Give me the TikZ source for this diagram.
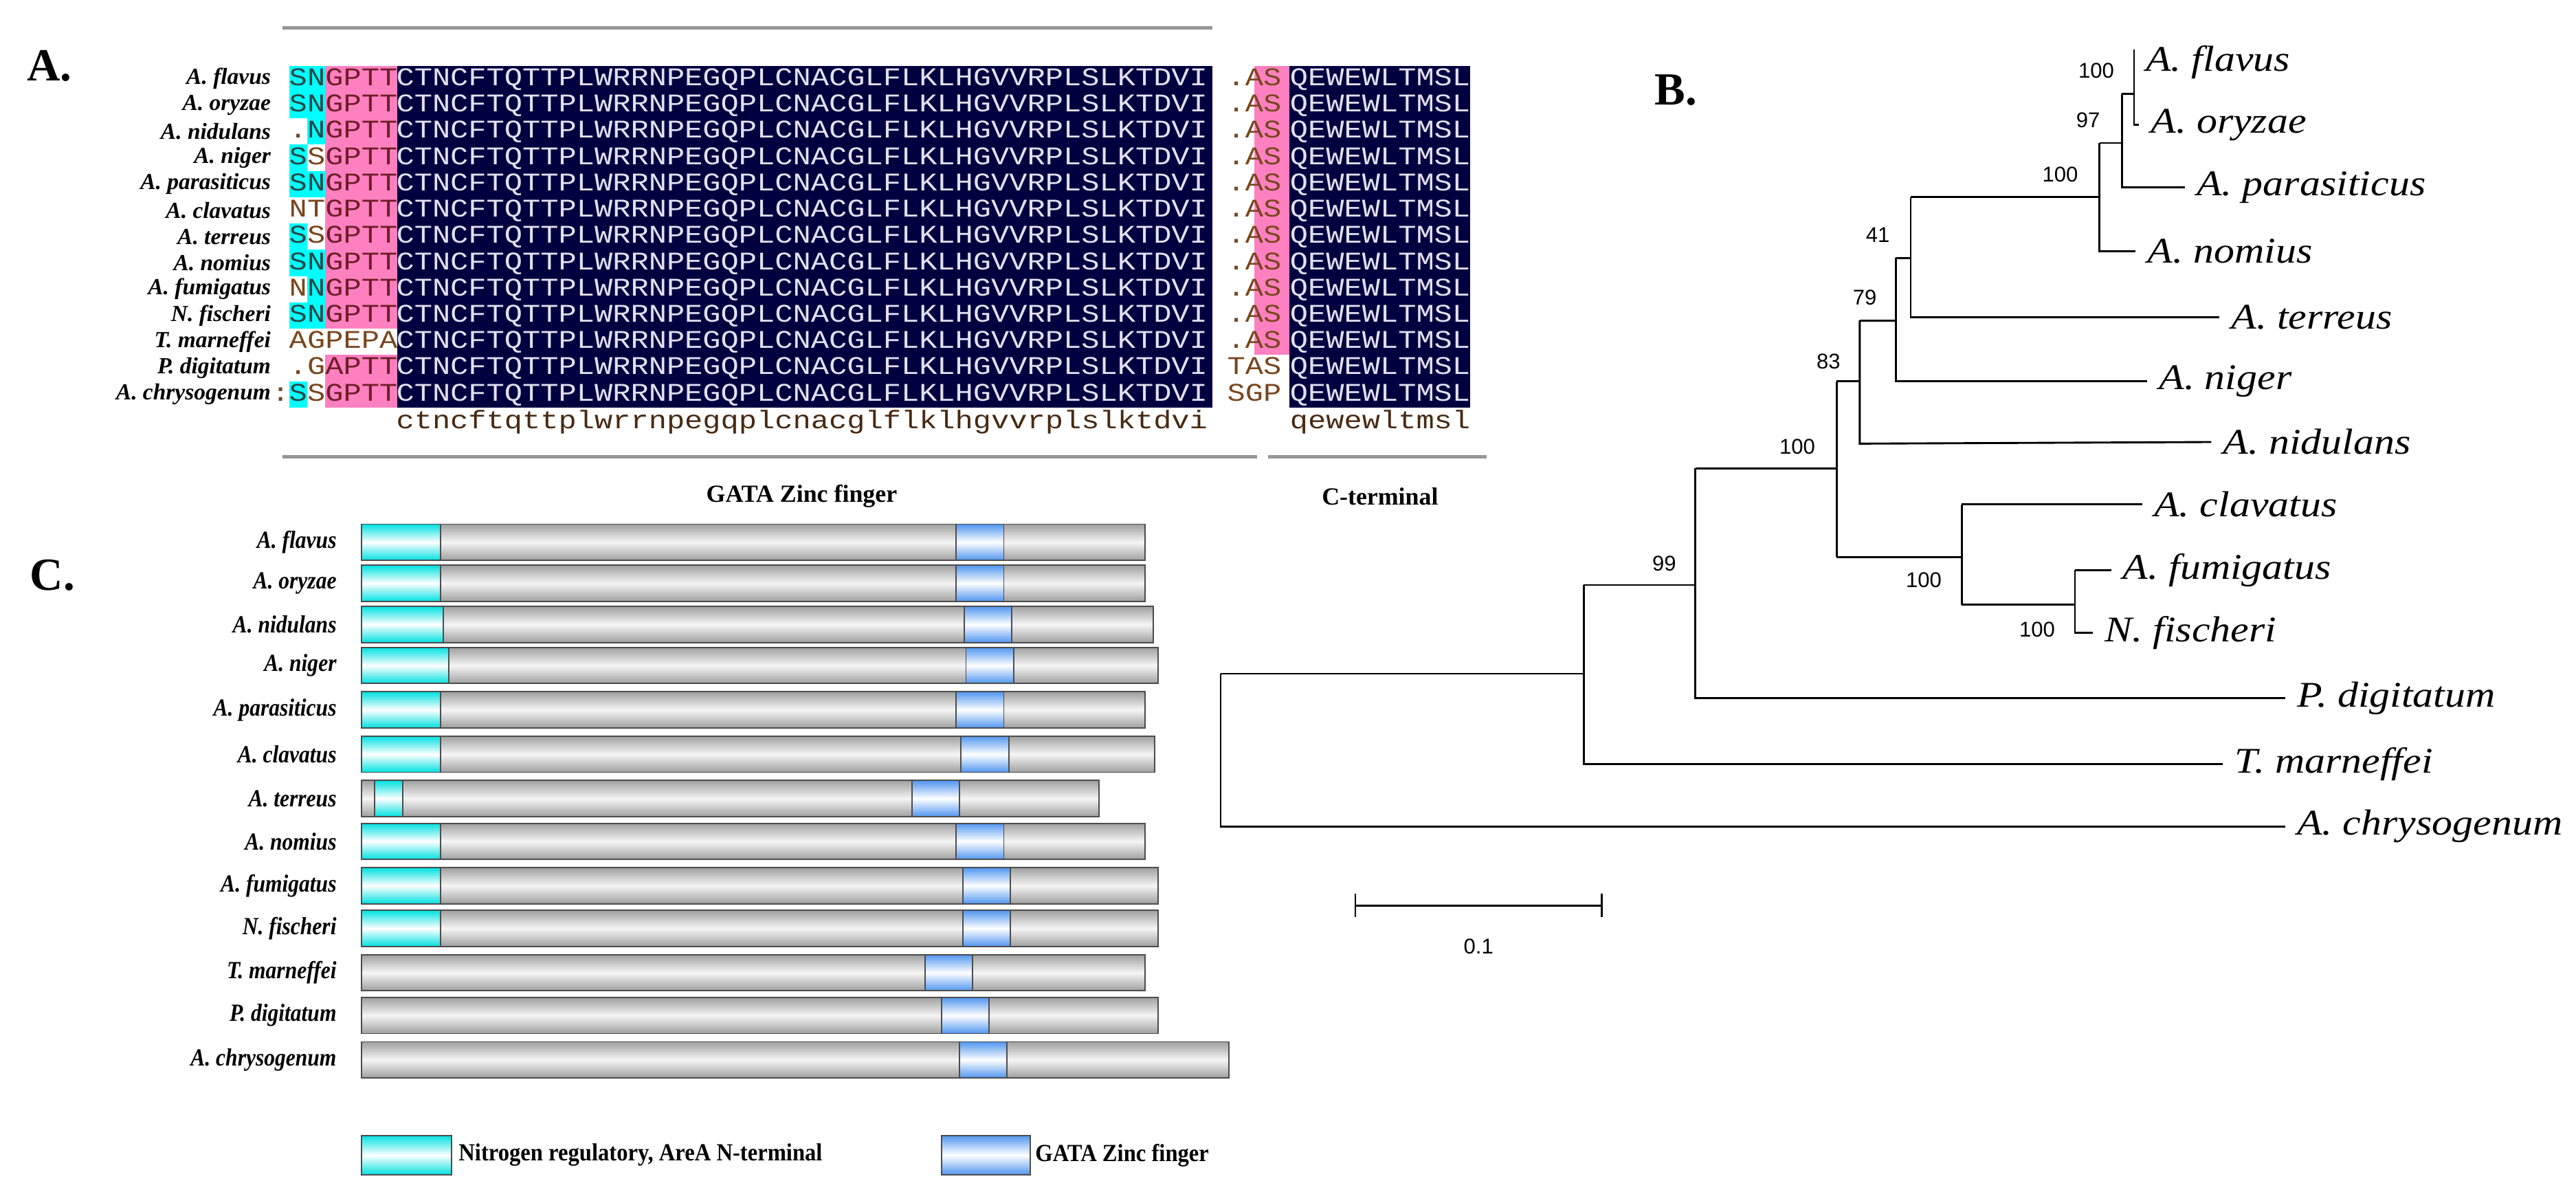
\documentclass[tikz,border=0pt]{standalone}
\usepackage{fontspec}
\usepackage{xstring}
\setmainfont{Liberation Serif}
\newfontfamily\seqf{Liberation Mono}[FakeStretch=1.18]
\newfontfamily\sansf{Liberation Sans}
\definecolor{navyA}{RGB}{0,0,64}
\definecolor{bgc}{RGB}{0,255,255}
\definecolor{bgp}{RGB}{255,128,192}
\definecolor{bgw}{RGB}{255,255,255}
\definecolor{txc}{RGB}{40,70,70}
\definecolor{txp}{RGB}{110,30,40}
\definecolor{txw}{RGB}{120,70,30}
\definecolor{txn}{RGB}{225,225,240}
\definecolor{lineg}{RGB}{150,150,150}
\tikzset{
  nmA/.style={anchor=east,inner sep=0pt,font=\fontsize{14}{14}\selectfont\bfseries\itshape},
  nmC/.style={anchor=east,inner sep=0pt,font=\fontsize{15}{15}\selectfont\bfseries\itshape},
  seq/.style={anchor=west,inner sep=0pt,text height=10pt,text depth=2pt,font=\fontsize{15.5}{15.5}\seqf},
  ch/.style={inner sep=0pt,text height=10pt,text depth=2pt,font=\fontsize{15.5}{15.5}\seqf},
  tip/.style={anchor=west,inner sep=0pt,font=\fontsize{22}{22}\selectfont\itshape},
  boot/.style={inner sep=0pt,font=\fontsize{13}{13}\sansf},
  tree/.style={line width=1.2pt,black},
  panel/.style={inner sep=0pt,font=\fontsize{28}{28}\selectfont\bfseries},
  bar/.style={draw=gray!60!black,line width=0.8pt,top color=gray!75,bottom color=gray!75,middle color=gray!8},
  cdom/.style={draw=gray!60!black,line width=0.8pt,top color={rgb,255:red,0;green,225;blue,225},bottom color={rgb,255:red,0;green,225;blue,225},middle color=white},
  gdom/.style={draw=gray!60!black,line width=0.8pt,top color={rgb,255:red,80;green,150;blue,240},bottom color={rgb,255:red,80;green,150;blue,240},middle color=white},
}
\begin{document}
\begin{tikzpicture}[x=1pt,y=-1pt]
\useasboundingbox (0,0) rectangle (1568,725.4);
% ---------- Panel A ----------
\node[panel] (lA) at (30,40) {A.};
\draw[lineg,line width=2pt] (172,17) -- (738,17);
\fill[navyA] (241,40) rectangle (738,248);
\fill[navyA] (785,40) rectangle (895,248);
\fill[bgp] (763.5,40) rectangle (785,216);
\foreach \nm/\chs/\bgs/\ct [count=\i from 0] in {
 A. flavus/SNGPTT/ccpppp/.AS,
 A. oryzae/SNGPTT/ccpppp/.AS,
 A. nidulans/.NGPTT/wcpppp/.AS,
 A. niger/SSGPTT/cwpppp/.AS,
 A. parasiticus/SNGPTT/ccpppp/.AS,
 A. clavatus/NTGPTT/wwpppp/.AS,
 A. terreus/SSGPTT/cwpppp/.AS,
 A. nomius/SNGPTT/ccpppp/.AS,
 A. fumigatus/NNGPTT/wcpppp/.AS,
 N. fischeri/SNGPTT/ccpppp/.AS,
 T. marneffei/AGPEPA/wwwwww/.AS,
 P. digitatum/.GAPTT/wwpppp/TAS,
 A. chrysogenum/SSGPTT/cwpppp/SGP}{
  \pgfmathsetmacro{\yy}{48+16*\i}
  \node[nmA] (na\i) at (165,\yy) {\nm};
  \foreach \k in {1,...,6}{
    \StrChar{\bgs}{\k}[\bc]
    \StrChar{\chs}{\k}[\cc]
    \pgfmathsetmacro{\xl}{176+11*(\k-1)}
    \fill[bg\bc] (\xl,\yy-8) rectangle (\xl+11,\yy+8);
    \node[ch,text=tx\bc] (pa\i-\k) at (\xl+5.5,\yy) {\cc};
  }
  \node[seq,text=txn] (sa\i) at (241,\yy) {CTNCFTQTTPLWRRNPEGQPLCNACGLFLKLHGVVRPLSLKTDVI};
  \foreach \k in {1,2,3}{
    \StrChar{\ct}{\k}[\cc]
    \pgfmathsetmacro{\xc}{747+11*(\k-0.5)}
    \node[ch,text=txw] (ca\i-\k) at (\xc,\yy) {\cc};
  }
  \node[seq,text=txn] (qa\i) at (785,\yy) {QEWEWLTMSL};
}
\node[ch,text=txw,anchor=east] (colon) at (176.5,240) {:};
\node[seq,text=txw!60!black] (cons1) at (241,257) {ctncftqttplwrrnpegqplcnacglflklhgvvrplslktdvi};
\node[seq,text=txw!60!black] (cons2) at (785,257) {qewewltmsl};
\draw[lineg,line width=2pt] (172,278) -- (765,278);
\draw[lineg,line width=2pt] (772,278) -- (905,278);
\node[inner sep=0pt,font=\fontsize{15}{15}\selectfont\bfseries] (gz) at (488,302) {GATA Zinc finger};
\node[inner sep=0pt,font=\fontsize{15}{15}\selectfont\bfseries] (ctl) at (840,302) {C-terminal};
% ---------- Panel B ----------
\node[panel] (lB) at (1020,55) {B.};
\coordinate (t1) at (1299,38);
\coordinate (t2) at (1302,76);
\coordinate (t3) at (1330,114);
\coordinate (t4) at (1300,153);
\coordinate (t5) at (1351,193);
\coordinate (t6) at (1307,232);
\coordinate (t7) at (1346,269);
\coordinate (t8) at (1304,307);
\coordinate (t9) at (1285,347);
\coordinate (t10) at (1274,385);
\coordinate (t11) at (1391,425);
\coordinate (t12) at (1353,465);
\coordinate (t13) at (1391,503);
\foreach \t/\lab in {t1/A. flavus,t2/A. oryzae,t3/A. parasiticus,t4/A. nomius,t5/A. terreus,t6/A. niger,t7/A. nidulans,t8/A. clavatus,t9/A. fumigatus,t10/N. fischeri,t11/P. digitatum,t12/T. marneffei,t13/A. chrysogenum}
  \node[tip] (L\t) at ([xshift=7pt]\t) {\scalebox{1.14}[1]{\lab}};
\draw[tree] (1299,30) -- (1299,76) -- (t2);
\draw[tree] (1291.5,57) -- (1299,57);
\draw[tree] (1291.5,57) -- (1291.5,114) -- (t3);
\draw[tree] (1278,87) -- (1291.5,87);
\draw[tree] (1278,87) -- (1278,153) -- (t4);
\draw[tree] (1163,120) -- (1278,120);
\draw[tree] (1163,120) -- (1163,193) -- (t5);
\draw[tree] (1154,157) -- (1163,157);
\draw[tree] (1154,157) -- (1154,232) -- (t6);
\draw[tree] (1132,195) -- (1154,195);
\draw[tree] (1132,195) -- (1132,270) -- (t7);
\draw[tree] (1263,347) -- (t9);
\draw[tree] (1263,347) -- (1263,385) -- (t10);
\draw[tree] (1194,368) -- (1263,368);
\draw[tree] (1194,307) -- (t8);
\draw[tree] (1194,307) -- (1194,368);
\draw[tree] (1118,232) -- (1132,232);
\draw[tree] (1118,339) -- (1194,339);
\draw[tree] (1118,232) -- (1118,339);
\draw[tree] (1032,285) -- (1118,285);
\draw[tree] (1032,285) -- (1032,425) -- (t11);
\draw[tree] (964,356) -- (1032,356);
\draw[tree] (964,356) -- (964,465) -- (t12);
\draw[tree] (743,410) -- (964,410);
\draw[tree] (743,410) -- (743,503) -- (t13);
\foreach \x/\y/\v [count=\j] in {1276/43/100,1271/73/97,1254/106/100,1143/143/41,1135/181/79,1113/220/83,1094/272/100,1013/343/99,1171/353/100,1240/383/100}
  \node[boot] (bs\j) at (\x,\y) {\v};
\draw[tree] (825,551) -- (975,551);
\draw[tree] (825,544) -- (825,558);
\draw[tree] (975,544) -- (975,558);
\node[boot] (sc) at (900,576) {0.1};
% ---------- Panel C ----------
\node[panel] (lC) at (32,350) {C.};
\foreach \nm/\yy/\re/\ca/\cb/\ga [count=\i] in {
 A. flavus/330/697/220/268/582,
 A. oryzae/355/697/220/268/582,
 A. nidulans/380/702/220/270/587,
 A. niger/405/705/220/273/588,
 A. parasiticus/432/697/220/268/582,
 A. clavatus/459/703/220/268/585,
 A. terreus/486/669/228/245/555,
 A. nomius/512/697/220/268/582,
 A. fumigatus/539/705/220/268/586,
 N. fischeri/565/705/220/268/586,
 T. marneffei/592/697/0/0/563,
 P. digitatum/618/705/0/0/573,
 A. chrysogenum/645/748/0/0/584}{
  \node[nmC] (nc\i) at (205,\yy) {\scalebox{0.88}[1]{\nm}};
  \path[bar] (220,\yy-11) rectangle (\re,\yy+11);
  \ifnum\ca>0 \path[cdom] (\ca,\yy-11) rectangle (\cb,\yy+11); \fi
  \path[gdom] (\ga,\yy-11) rectangle (\ga+29,\yy+11);
}
\path[cdom] (220,691) rectangle (275,715);
\node[anchor=west,inner sep=0pt,font=\fontsize{13}{13}\selectfont\bfseries] (lg1) at (279,703) {\scalebox{1.05}[1.15]{Nitrogen regulatory, AreA N-terminal}};
\path[gdom] (573,691) rectangle (627,715);
\node[anchor=west,inner sep=0pt,font=\fontsize{13}{13}\selectfont\bfseries] (lg2) at (630,703) {\scalebox{1.05}[1.15]{GATA Zinc finger}};
\end{tikzpicture}
\end{document}
